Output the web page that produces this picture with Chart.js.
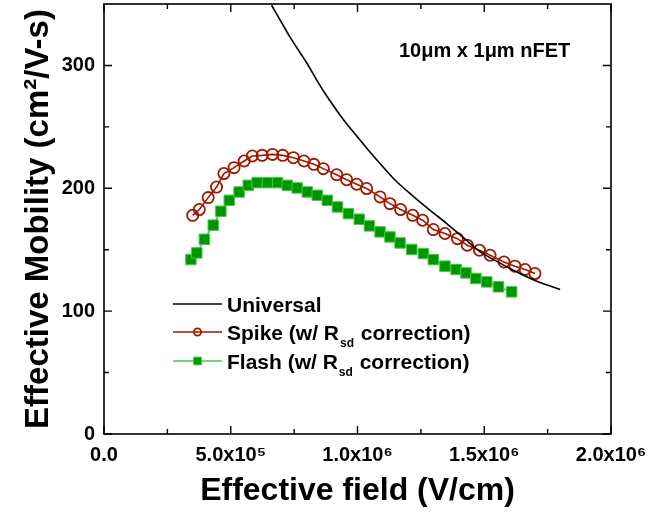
<!DOCTYPE html>
<html><head><meta charset="utf-8">
<script src="https://cdn.jsdelivr.net/npm/chart.js@4/dist/chart.umd.min.js"></script>
<style>html,body{margin:0;padding:0;background:#fff;}canvas{display:block;}</style>
</head><body>
<canvas id="c" width="650" height="517"></canvas>
<script>
// ---- data (effective field in V/cm, mobility in cm^2/V-s) ----
const universalField = [6.61e5,7.00e5,7.34e5,7.73e5,8.00e5,8.45e5,8.92e5,9.44e5,9.97e5,1.049e6,1.101e6,1.154e6,1.220e6,1.290e6,1.352e6,1.420e6,1.483e6,1.550e6,1.615e6,1.700e6,1.799e6];
const universalMobility = [349,335,323,310.5,302,286,271,256,242.5,229.5,217.3,205.5,193.5,181.5,171.3,159.5,148.5,140.5,133.3,125.0,117.6];

const spikeField = [3.50e5,3.76e5,4.11e5,4.44e5,4.73e5,5.13e5,5.53e5,5.85e5,6.24e5,6.65e5,7.05e5,7.47e5,7.89e5,8.28e5,8.65e5,9.18e5,9.57e5,9.97e5,1.036e6,1.089e6,1.128e6,1.170e6,1.218e6,1.257e6,1.299e6,1.345e6,1.394e6,1.433e6,1.481e6,1.523e6,1.578e6,1.621e6,1.661e6,1.700e6];
const spikeMobility = [178,182.7,192.4,201,212,216.8,222.2,226.3,226.8,227.6,226.8,224.9,222.2,219.5,216,211,207,203.3,199.8,193,187.5,182.7,178,174,166.4,163.2,159,153.7,149.6,145.5,140,136.6,133.9,130.6];

const flashField = [3.43e5,3.66e5,3.96e5,4.31e5,4.61e5,4.94e5,5.33e5,5.69e5,6.04e5,6.45e5,6.85e5,7.23e5,7.62e5,8.02e5,8.41e5,8.81e5,9.21e5,9.64e5,1.007e6,1.047e6,1.089e6,1.128e6,1.168e6,1.214e6,1.260e6,1.299e6,1.345e6,1.389e6,1.428e6,1.467e6,1.510e6,1.556e6,1.608e6];
const flashMobility = [142,147.4,158.5,170,181.3,190.2,197,202.4,204.6,204.6,204.6,202.4,200.3,197,194.3,190.2,184.8,179.4,174.8,169.4,164.5,160.4,155.5,150.2,146.9,142,136.6,133.9,131.1,126.6,123.8,119.8,115.7];

const seriesNames = ['Universal', 'Spike (w/ Rsd correction)', 'Flash (w/ Rsd correction)'];
const xTickValues = [0, 5e5, 1e6, 1.5e6, 2e6];
const xTickLabels = ['0.0', '5.0x10\u2075', '1.0x10\u2076', '1.5x10\u2076', '2.0x10\u2076'];
const xMinorTicks = [2.5e5, 7.5e5, 1.25e6, 1.75e6];
const yTickValues = [0, 100, 200, 300];
const yTickLabels = ['0', '100', '200', '300'];
const yMinorTicks = [50, 150, 250];
const xTitle = 'Effective field (V/cm)';
const yTitle = 'Effective Mobility (cm\u00B2/V-s)';
const annotationText = '10\u03BCm x 1\u03BCm nFET';

// ---- build ----
const pts = (xs, ys) => xs.map((v, i) => ({x: v, y: ys[i]}));
const FONT = "'Liberation Sans', Arial, Helvetica, sans-serif";
const RED = 'rgb(160,24,0)';
const GREEN = 'rgb(0,150,0)';
const GREEN_EDGE = 'rgb(70,200,70)';

const decorPlugin = {
  id: 'decor',
  afterDatasetsDraw(chart) {
    const {ctx, chartArea: a, scales: {x, y}} = chart;
    ctx.save();
    ctx.strokeStyle = '#000';
    ctx.lineWidth = 1.6;
    ctx.strokeRect(a.left, a.top, a.right - a.left, a.bottom - a.top);
    ctx.lineWidth = 1.4;
    ctx.beginPath();
    const xt = (v, len) => { const p = x.getPixelForValue(v); ctx.moveTo(p, a.bottom); ctx.lineTo(p, a.bottom - len); ctx.moveTo(p, a.top); ctx.lineTo(p, a.top + len); };
    const yt = (v, len) => { const p = y.getPixelForValue(v); ctx.moveTo(a.left, p); ctx.lineTo(a.left + len, p); ctx.moveTo(a.right, p); ctx.lineTo(a.right - len, p); };
    xTickValues.forEach(v => xt(v, 8));
    xMinorTicks.forEach(v => xt(v, 5));
    yTickValues.forEach(v => yt(v, 8));
    yMinorTicks.forEach(v => yt(v, 5));
    ctx.stroke();

    // legend
    const rows = [304, 332, 361];
    const ds = chart.data.datasets;
    const lx0 = 173, lx1 = 222, tx = 227;
    ds.forEach((d, i) => {
      const ry = rows[i];
      ctx.strokeStyle = d.borderColor;
      ctx.lineWidth = 1.6;
      ctx.beginPath(); ctx.moveTo(lx0, ry); ctx.lineTo(lx1, ry); ctx.stroke();
      if (d.pointRadius > 0) {
        ctx.fillStyle = d.pointBackgroundColor;
        ctx.strokeStyle = d.pointBorderColor;
        ctx.lineWidth = d.pointBorderWidth;
        Chart.helpers.drawPoint(ctx, {pointStyle: d.pointStyle, rotation: 0, radius: i === 1 ? 3.6 : 5.5, borderWidth: d.pointBorderWidth}, (lx0 + lx1) / 2, ry);
      }
      const name = seriesNames[i];
      const base = ry + 8;
      ctx.fillStyle = '#000';
      ctx.textBaseline = 'alphabetic';
      ctx.textAlign = 'left';
      ctx.font = 'bold 21px ' + FONT;
      const k = name.indexOf('Rsd');
      if (k < 0) {
        ctx.fillText(name, tx, base);
      } else {
        const pre = name.slice(0, k + 1), sub = 'sd', post = name.slice(k + 3);
        ctx.fillText(pre, tx, base);
        let cx = tx + ctx.measureText(pre).width + 1;
        ctx.font = 'bold 12px ' + FONT;
        ctx.fillText(sub, cx, base + 7);
        cx += ctx.measureText(sub).width + 1;
        ctx.font = 'bold 21px ' + FONT;
        ctx.fillText(post, cx, base);
      }
    });

    // annotation
    ctx.font = 'bold 20px ' + FONT;
    ctx.fillStyle = '#000';
    ctx.textAlign = 'left';
    ctx.textBaseline = 'alphabetic';
    ctx.fillText(annotationText, 399, 57);
    ctx.restore();
  }
};

new Chart(document.getElementById('c'), {
  type: 'line',
  data: {
    datasets: [
      {label: seriesNames[0], data: pts(universalField, universalMobility), borderColor: '#000', borderWidth: 1.6,
       pointRadius: 0, cubicInterpolationMode: 'monotone', fill: false},
      {label: seriesNames[1], data: pts(spikeField, spikeMobility), borderColor: RED, borderWidth: 1.6,
       pointStyle: 'circle', pointRadius: 5.6, pointBackgroundColor: 'rgba(0,0,0,0)', pointBorderColor: RED, pointBorderWidth: 1.8, fill: false},
      {label: seriesNames[2], data: pts(flashField, flashMobility), borderColor: GREEN_EDGE, borderWidth: 1.6,
       pointStyle: 'rect', pointRadius: 7.4, pointBackgroundColor: GREEN, pointBorderColor: GREEN_EDGE, pointBorderWidth: 1, fill: false}
    ]
  },
  options: {
    responsive: false,
    animation: false,
    layout: {autoPadding: false, padding: {left: 0, right: 39, top: 4, bottom: 0}},
    plugins: {legend: {display: false}, tooltip: {enabled: false}},
    scales: {
      x: {
        type: 'linear', min: 0, max: 2e6,
        grid: {display: false, drawTicks: false},
        border: {display: false},
        ticks: {
          stepSize: 5e5, autoSkip: false, maxRotation: 0, padding: 9, color: '#000',
          font: {family: FONT, weight: 'bold', size: 20},
          callback: v => { const i = xTickValues.indexOf(v); return i >= 0 ? xTickLabels[i] : null; }
        },
        title: {display: true, text: xTitle, color: '#000', font: {family: FONT, weight: 'bold', size: 32}, padding: {top: 0, bottom: 7}},
        afterFit: s => { s.height = 83; s.paddingLeft = 0; s.paddingRight = 0; s.paddingTop = 0; s.paddingBottom = 0; }
      },
      y: {
        type: 'linear', min: 0, max: 350,
        grid: {display: false, drawTicks: false},
        border: {display: false},
        ticks: {
          stepSize: 50, autoSkip: false, padding: 9, color: '#000',
          font: {family: FONT, weight: 'bold', size: 20},
          callback: v => { const i = yTickValues.indexOf(v); return i >= 0 ? yTickLabels[i] : null; }
        },
        title: {display: true, text: yTitle, color: '#000', font: {family: FONT, weight: 'bold', size: 33}, padding: {top: 19, bottom: 0}},
        afterFit: s => { s.width = 104; s.paddingLeft = 0; s.paddingRight = 0; s.paddingTop = 0; s.paddingBottom = 0; }
      }
    }
  },
  plugins: [decorPlugin]
});
</script>
</body></html>
